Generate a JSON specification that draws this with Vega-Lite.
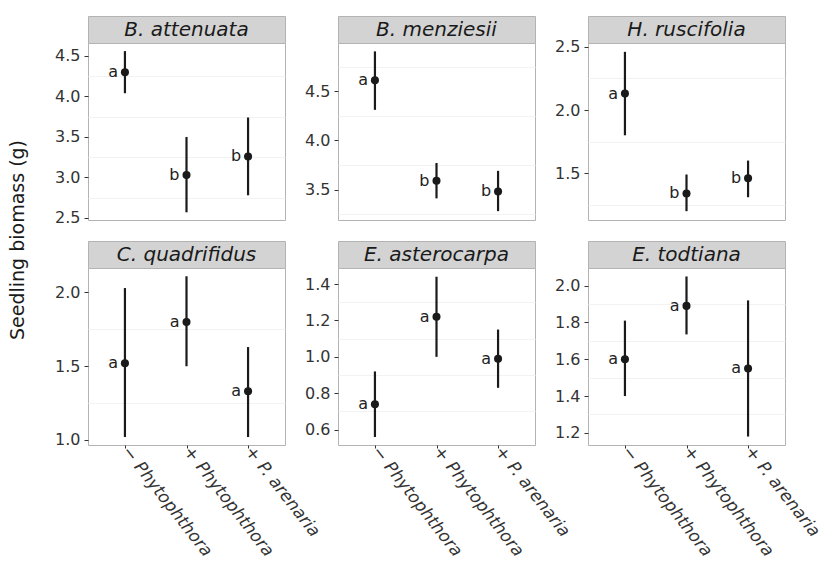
{
  "$schema": "https://vega.github.io/schema/vega-lite/v6.json",
  "padding": {"left": 8, "top": 15, "right": 5, "bottom": 0},
  "autosize": {"type": "pad"},
  "background": "white",
  "config": {
    "view": {"stroke": null},
    "font": "DejaVu Sans",
    "axis": {"labelFont": "DejaVu Sans", "titleFont": "DejaVu Sans"}
  },
  "datasets": {
    "biomass": [
      {"species": "B. attenuata", "treatment": "− Phytophthora", "mean": 4.30, "lower": 4.04, "upper": 4.56, "group": "a"},
      {"species": "B. attenuata", "treatment": "+ Phytophthora", "mean": 3.03, "lower": 2.57, "upper": 3.50, "group": "b"},
      {"species": "B. attenuata", "treatment": "+ P. arenaria", "mean": 3.26, "lower": 2.78, "upper": 3.74, "group": "b"},
      {"species": "B. menziesii", "treatment": "− Phytophthora", "mean": 4.61, "lower": 4.31, "upper": 4.905, "group": "a"},
      {"species": "B. menziesii", "treatment": "+ Phytophthora", "mean": 3.59, "lower": 3.41, "upper": 3.77, "group": "b"},
      {"species": "B. menziesii", "treatment": "+ P. arenaria", "mean": 3.48, "lower": 3.28, "upper": 3.69, "group": "b"},
      {"species": "H. ruscifolia", "treatment": "− Phytophthora", "mean": 2.13, "lower": 1.80, "upper": 2.46, "group": "a"},
      {"species": "H. ruscifolia", "treatment": "+ Phytophthora", "mean": 1.34, "lower": 1.20, "upper": 1.49, "group": "b"},
      {"species": "H. ruscifolia", "treatment": "+ P. arenaria", "mean": 1.46, "lower": 1.31, "upper": 1.60, "group": "b"},
      {"species": "C. quadrifidus", "treatment": "− Phytophthora", "mean": 1.52, "lower": 1.02, "upper": 2.03, "group": "a"},
      {"species": "C. quadrifidus", "treatment": "+ Phytophthora", "mean": 1.80, "lower": 1.50, "upper": 2.11, "group": "a"},
      {"species": "C. quadrifidus", "treatment": "+ P. arenaria", "mean": 1.33, "lower": 1.02, "upper": 1.63, "group": "a"},
      {"species": "E. asterocarpa", "treatment": "− Phytophthora", "mean": 0.74, "lower": 0.56, "upper": 0.92, "group": "a"},
      {"species": "E. asterocarpa", "treatment": "+ Phytophthora", "mean": 1.22, "lower": 1.00, "upper": 1.44, "group": "a"},
      {"species": "E. asterocarpa", "treatment": "+ P. arenaria", "mean": 0.99, "lower": 0.83, "upper": 1.15, "group": "a"},
      {"species": "E. todtiana", "treatment": "− Phytophthora", "mean": 1.60, "lower": 1.40, "upper": 1.81, "group": "a"},
      {"species": "E. todtiana", "treatment": "+ Phytophthora", "mean": 1.89, "lower": 1.735, "upper": 2.05, "group": "a"},
      {"species": "E. todtiana", "treatment": "+ P. arenaria", "mean": 1.55, "lower": 1.18, "upper": 1.92, "group": "a"}
    ],
    "strips": [
      {"species": "B. attenuata"}, {"species": "B. menziesii"}, {"species": "H. ruscifolia"},
      {"species": "C. quadrifidus"}, {"species": "E. asterocarpa"}, {"species": "E. todtiana"}
    ],
    "ytitle": [{"label": "Seedling biomass (g)"}]
  },
  "hconcat": [
    {
      "width": 20, "height": 448,
      "data": {"name": "ytitle"},
      "mark": {"type": "text", "angle": 270, "fontSize": 19, "color": "#1a1a1a", "font": "DejaVu Sans"},
      "encoding": {"text": {"field": "label"}}
    },
    {
      "columns": 3,
      "align": "each",
      "bounds": "flush",
      "spacing": {"row": 0, "column": 53},
      "concat": [
        {"width": 197, "height": 27, "view": {"fill": "#d3d3d3", "stroke": "#b3b3b3"}, "data": {"name": "strips"}, "transform": [{"filter": "datum.species === 'B. attenuata'"}], "mark": {"type": "text", "fontStyle": "italic", "fontSize": 20, "color": "#1a1a1a"}, "encoding": {"text": {"field": "species"}}},
        {"width": 197, "height": 27, "view": {"fill": "#d3d3d3", "stroke": "#b3b3b3"}, "data": {"name": "strips"}, "transform": [{"filter": "datum.species === 'B. menziesii'"}], "mark": {"type": "text", "fontStyle": "italic", "fontSize": 20, "color": "#1a1a1a"}, "encoding": {"text": {"field": "species"}}},
        {"width": 197, "height": 27, "view": {"fill": "#d3d3d3", "stroke": "#b3b3b3"}, "data": {"name": "strips"}, "transform": [{"filter": "datum.species === 'H. ruscifolia'"}], "mark": {"type": "text", "fontStyle": "italic", "fontSize": 20, "color": "#1a1a1a"}, "encoding": {"text": {"field": "species"}}},

        {"width": 197, "height": 177, "view": {"fill": "white", "stroke": "#b3b3b3"}, "data": {"name": "biomass"}, "transform": [{"filter": "datum.species === 'B. attenuata'"}],
         "encoding": {"x": {"field": "treatment", "type": "nominal", "scale": {"type": "point", "padding": 0.6, "domain": ["− Phytophthora", "+ Phytophthora", "+ P. arenaria"]}, "axis": null}},
         "resolve": {"axis": {"y": "independent"}},
         "layer": [
           {"mark": {"type": "rule", "strokeWidth": 2.2, "color": "#1a1a1a"}, "encoding": {"y": {"field": "lower", "type": "quantitative", "title": null, "scale": {"domain": [2.475, 4.66], "nice": false, "zero": false}, "axis": {"orient": "right", "grid": true, "gridColor": "#f2f2f2", "values": [2.75, 3.25, 3.75, 4.25], "labels": false, "ticks": false, "domain": false, "title": null}}, "y2": {"field": "upper"}}},
           {"mark": {"type": "point", "filled": true, "size": 65, "opacity": 1, "color": "#1a1a1a"}, "encoding": {"y": {"field": "mean", "type": "quantitative", "title": null, "axis": {"orient": "left", "values": [2.5, 3.0, 3.5, 4.0, 4.5], "format": ".1f", "labelFontSize": 16, "labelColor": "#333333", "tickColor": "#333333", "tickSize": 4, "labelPadding": 4, "domain": false, "grid": false, "title": null}}}},
           {"mark": {"type": "text", "align": "right", "baseline": "middle", "dx": -7, "fontSize": 16, "color": "#222222"}, "encoding": {"y": {"field": "mean", "type": "quantitative", "title": null, "axis": null}, "text": {"field": "group"}}}
         ]},
        {"width": 197, "height": 177, "view": {"fill": "white", "stroke": "#b3b3b3"}, "data": {"name": "biomass"}, "transform": [{"filter": "datum.species === 'B. menziesii'"}],
         "encoding": {"x": {"field": "treatment", "type": "nominal", "scale": {"type": "point", "padding": 0.6, "domain": ["− Phytophthora", "+ Phytophthora", "+ P. arenaria"]}, "axis": null}},
         "resolve": {"axis": {"y": "independent"}},
         "layer": [
           {"mark": {"type": "rule", "strokeWidth": 2.2, "color": "#1a1a1a"}, "encoding": {"y": {"field": "lower", "type": "quantitative", "title": null, "scale": {"domain": [3.19, 4.99], "nice": false, "zero": false}, "axis": {"orient": "right", "grid": true, "gridColor": "#f2f2f2", "values": [3.25, 3.75, 4.25, 4.75], "labels": false, "ticks": false, "domain": false, "title": null}}, "y2": {"field": "upper"}}},
           {"mark": {"type": "point", "filled": true, "size": 65, "opacity": 1, "color": "#1a1a1a"}, "encoding": {"y": {"field": "mean", "type": "quantitative", "title": null, "axis": {"orient": "left", "values": [3.5, 4.0, 4.5], "format": ".1f", "labelFontSize": 16, "labelColor": "#333333", "tickColor": "#333333", "tickSize": 4, "labelPadding": 4, "domain": false, "grid": false, "title": null}}}},
           {"mark": {"type": "text", "align": "right", "baseline": "middle", "dx": -7, "fontSize": 16, "color": "#222222"}, "encoding": {"y": {"field": "mean", "type": "quantitative", "title": null, "axis": null}, "text": {"field": "group"}}}
         ]},
        {"width": 197, "height": 177, "view": {"fill": "white", "stroke": "#b3b3b3"}, "data": {"name": "biomass"}, "transform": [{"filter": "datum.species === 'H. ruscifolia'"}],
         "encoding": {"x": {"field": "treatment", "type": "nominal", "scale": {"type": "point", "padding": 0.6, "domain": ["− Phytophthora", "+ Phytophthora", "+ P. arenaria"]}, "axis": null}},
         "resolve": {"axis": {"y": "independent"}},
         "layer": [
           {"mark": {"type": "rule", "strokeWidth": 2.2, "color": "#1a1a1a"}, "encoding": {"y": {"field": "lower", "type": "quantitative", "title": null, "scale": {"domain": [1.13, 2.53], "nice": false, "zero": false}, "axis": {"orient": "right", "grid": true, "gridColor": "#f2f2f2", "values": [1.25, 1.75, 2.25], "labels": false, "ticks": false, "domain": false, "title": null}}, "y2": {"field": "upper"}}},
           {"mark": {"type": "point", "filled": true, "size": 65, "opacity": 1, "color": "#1a1a1a"}, "encoding": {"y": {"field": "mean", "type": "quantitative", "title": null, "axis": {"orient": "left", "values": [1.5, 2.0, 2.5], "format": ".1f", "labelFontSize": 16, "labelColor": "#333333", "tickColor": "#333333", "tickSize": 4, "labelPadding": 4, "domain": false, "grid": false, "title": null}}}},
           {"mark": {"type": "text", "align": "right", "baseline": "middle", "dx": -7, "fontSize": 16, "color": "#222222"}, "encoding": {"y": {"field": "mean", "type": "quantitative", "title": null, "axis": null}, "text": {"field": "group"}}}
         ]},

        {"width": 197, "height": 21, "data": {"name": "strips"}, "transform": [{"filter": "false"}], "mark": "text", "encoding": {}},
        {"width": 197, "height": 21, "data": {"name": "strips"}, "transform": [{"filter": "false"}], "mark": "text", "encoding": {}},
        {"width": 197, "height": 21, "data": {"name": "strips"}, "transform": [{"filter": "false"}], "mark": "text", "encoding": {}},

        {"width": 197, "height": 27, "view": {"fill": "#d3d3d3", "stroke": "#b3b3b3"}, "data": {"name": "strips"}, "transform": [{"filter": "datum.species === 'C. quadrifidus'"}], "mark": {"type": "text", "fontStyle": "italic", "fontSize": 20, "color": "#1a1a1a"}, "encoding": {"text": {"field": "species"}}},
        {"width": 197, "height": 27, "view": {"fill": "#d3d3d3", "stroke": "#b3b3b3"}, "data": {"name": "strips"}, "transform": [{"filter": "datum.species === 'E. asterocarpa'"}], "mark": {"type": "text", "fontStyle": "italic", "fontSize": 20, "color": "#1a1a1a"}, "encoding": {"text": {"field": "species"}}},
        {"width": 197, "height": 27, "view": {"fill": "#d3d3d3", "stroke": "#b3b3b3"}, "data": {"name": "strips"}, "transform": [{"filter": "datum.species === 'E. todtiana'"}], "mark": {"type": "text", "fontStyle": "italic", "fontSize": 20, "color": "#1a1a1a"}, "encoding": {"text": {"field": "species"}}},

        {"width": 197, "height": 177, "view": {"fill": "white", "stroke": "#b3b3b3"}, "data": {"name": "biomass"}, "transform": [{"filter": "datum.species === 'C. quadrifidus'"}],
         "encoding": {"x": {"field": "treatment", "type": "nominal", "scale": {"type": "point", "padding": 0.6, "domain": ["− Phytophthora", "+ Phytophthora", "+ P. arenaria"]}, "axis": {"title": null, "labelAngle": 52, "labelAlign": "left", "labelBaseline": "middle", "labelFontStyle": "italic", "labelFontSize": 17, "labelColor": "#333333", "tickColor": "#333333", "tickSize": 3, "labelPadding": 0, "domain": false, "grid": false}}},
         "resolve": {"axis": {"y": "independent"}},
         "layer": [
           {"mark": {"type": "rule", "strokeWidth": 2.2, "color": "#1a1a1a"}, "encoding": {"y": {"field": "lower", "type": "quantitative", "title": null, "scale": {"domain": [0.966, 2.166], "nice": false, "zero": false}, "axis": {"orient": "right", "grid": true, "gridColor": "#f2f2f2", "values": [1.25, 1.75], "labels": false, "ticks": false, "domain": false, "title": null}}, "y2": {"field": "upper"}}},
           {"mark": {"type": "point", "filled": true, "size": 65, "opacity": 1, "color": "#1a1a1a"}, "encoding": {"y": {"field": "mean", "type": "quantitative", "title": null, "axis": {"orient": "left", "values": [1.0, 1.5, 2.0], "format": ".1f", "labelFontSize": 16, "labelColor": "#333333", "tickColor": "#333333", "tickSize": 4, "labelPadding": 4, "domain": false, "grid": false, "title": null}}}},
           {"mark": {"type": "text", "align": "right", "baseline": "middle", "dx": -7, "fontSize": 16, "color": "#222222"}, "encoding": {"y": {"field": "mean", "type": "quantitative", "title": null, "axis": null}, "text": {"field": "group"}}}
         ]},
        {"width": 197, "height": 177, "view": {"fill": "white", "stroke": "#b3b3b3"}, "data": {"name": "biomass"}, "transform": [{"filter": "datum.species === 'E. asterocarpa'"}],
         "encoding": {"x": {"field": "treatment", "type": "nominal", "scale": {"type": "point", "padding": 0.6, "domain": ["− Phytophthora", "+ Phytophthora", "+ P. arenaria"]}, "axis": {"title": null, "labelAngle": 52, "labelAlign": "left", "labelBaseline": "middle", "labelFontStyle": "italic", "labelFontSize": 17, "labelColor": "#333333", "tickColor": "#333333", "tickSize": 3, "labelPadding": 0, "domain": false, "grid": false}}},
         "resolve": {"axis": {"y": "independent"}},
         "layer": [
           {"mark": {"type": "rule", "strokeWidth": 2.2, "color": "#1a1a1a"}, "encoding": {"y": {"field": "lower", "type": "quantitative", "title": null, "scale": {"domain": [0.516, 1.488], "nice": false, "zero": false}, "axis": {"orient": "right", "grid": true, "gridColor": "#f2f2f2", "values": [0.7, 0.9, 1.1, 1.3], "labels": false, "ticks": false, "domain": false, "title": null}}, "y2": {"field": "upper"}}},
           {"mark": {"type": "point", "filled": true, "size": 65, "opacity": 1, "color": "#1a1a1a"}, "encoding": {"y": {"field": "mean", "type": "quantitative", "title": null, "axis": {"orient": "left", "values": [0.6, 0.8, 1.0, 1.2, 1.4], "format": ".1f", "labelFontSize": 16, "labelColor": "#333333", "tickColor": "#333333", "tickSize": 4, "labelPadding": 4, "domain": false, "grid": false, "title": null}}}},
           {"mark": {"type": "text", "align": "right", "baseline": "middle", "dx": -7, "fontSize": 16, "color": "#222222"}, "encoding": {"y": {"field": "mean", "type": "quantitative", "title": null, "axis": null}, "text": {"field": "group"}}}
         ]},
        {"width": 197, "height": 177, "view": {"fill": "white", "stroke": "#b3b3b3"}, "data": {"name": "biomass"}, "transform": [{"filter": "datum.species === 'E. todtiana'"}],
         "encoding": {"x": {"field": "treatment", "type": "nominal", "scale": {"type": "point", "padding": 0.6, "domain": ["− Phytophthora", "+ Phytophthora", "+ P. arenaria"]}, "axis": {"title": null, "labelAngle": 52, "labelAlign": "left", "labelBaseline": "middle", "labelFontStyle": "italic", "labelFontSize": 17, "labelColor": "#333333", "tickColor": "#333333", "tickSize": 3, "labelPadding": 0, "domain": false, "grid": false}}},
         "resolve": {"axis": {"y": "independent"}},
         "layer": [
           {"mark": {"type": "rule", "strokeWidth": 2.2, "color": "#1a1a1a"}, "encoding": {"y": {"field": "lower", "type": "quantitative", "title": null, "scale": {"domain": [1.134, 2.096], "nice": false, "zero": false}, "axis": {"orient": "right", "grid": true, "gridColor": "#f2f2f2", "values": [1.3, 1.5, 1.7, 1.9], "labels": false, "ticks": false, "domain": false, "title": null}}, "y2": {"field": "upper"}}},
           {"mark": {"type": "point", "filled": true, "size": 65, "opacity": 1, "color": "#1a1a1a"}, "encoding": {"y": {"field": "mean", "type": "quantitative", "title": null, "axis": {"orient": "left", "values": [1.2, 1.4, 1.6, 1.8, 2.0], "format": ".1f", "labelFontSize": 16, "labelColor": "#333333", "tickColor": "#333333", "tickSize": 4, "labelPadding": 4, "domain": false, "grid": false, "title": null}}}},
           {"mark": {"type": "text", "align": "right", "baseline": "middle", "dx": -7, "fontSize": 16, "color": "#222222"}, "encoding": {"y": {"field": "mean", "type": "quantitative", "title": null, "axis": null}, "text": {"field": "group"}}}
         ]}
      ]
    }
  ],
  "spacing": 60,
  "bounds": "flush"
}
